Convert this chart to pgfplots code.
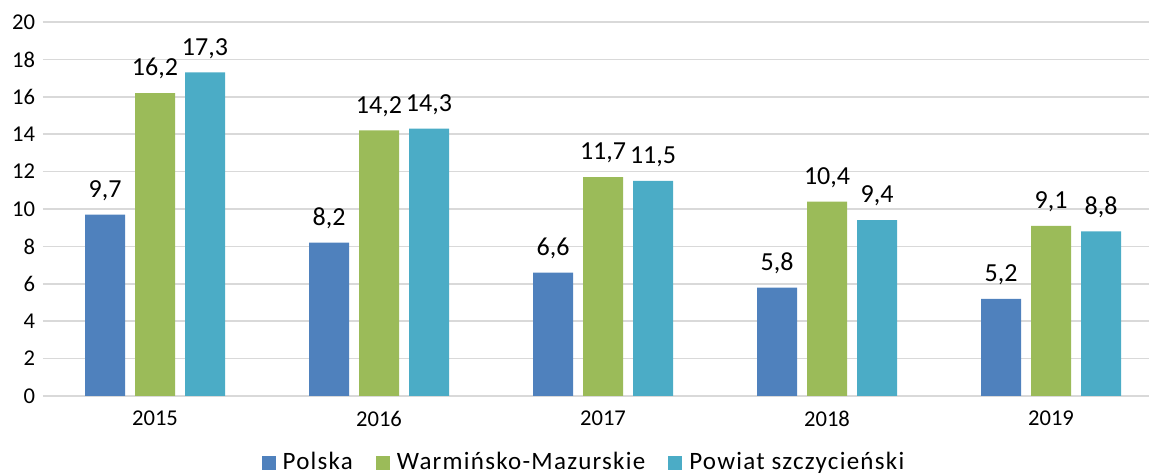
\documentclass[border=0pt]{standalone}
\usepackage{pgfplots}
\pgfplotsset{compat=1.18}
\usepackage{fontspec}
\setmainfont{Carlito}
\definecolor{cPol}{HTML}{4F81BD}
\definecolor{cWM}{HTML}{9BBB59}
\definecolor{cPow}{HTML}{4BACC6}
\definecolor{cGrid}{HTML}{D9D9D9}
\begin{document}
\begin{tikzpicture}
\path[use as bounding box] (0,0) rectangle (574.5bp,237.5bp);
\begin{axis}[
  at={(21.5bp,39.5bp)}, anchor=south west,
  scale only axis, width=553bp, height=187bp,
  ybar=5bp, bar width=20bp,
  xmin=-0.5, xmax=4.4375, ymin=0, ymax=20,
  xtick={0,1,2,3,4}, xticklabels={2015,2016,2017,2018,2019},
  ytick={0,2,...,20},
  ymajorgrids, grid style={cGrid, line width=0.8bp},
  axis line style={draw=none},
  major tick length=0pt,
  /pgf/number format/assume math mode=true,
  tick label style={font=\fontsize{11.3bp}{13bp}\selectfont, text=black},
  yticklabel style={xshift=-0.5bp},
  xticklabel style={yshift=-4bp},
  nodes near coords,
  nodes near coords style={font=\fontsize{13bp}{15bp}\selectfont, text=black, yshift=3.5bp,
    /pgf/number format/use comma, /pgf/number format/fixed, /pgf/number format/fixed zerofill, /pgf/number format/precision=1, /pgf/number format/assume math mode=true},
  legend style={at={(axis description cs:0.49,-0.178)}, anchor=center, draw=none, fill=none,
    font=\fontsize{12.5bp}{14bp}\selectfont\addfontfeatures{LetterSpace=5}, legend columns=-1,
    /tikz/every odd column/.append style={column sep=1.5bp},
    /tikz/every even column/.append style={column sep=9.5bp}},
  legend image code/.code={\fill[#1] (0bp,-3.5bp) rectangle (7bp,3.5bp);},
]
\addplot[draw=none, fill=cPol] coordinates {(0,9.7) (1,8.2) (2,6.6) (3,5.8) (4,5.2)};
\addplot[draw=none, fill=cWM] coordinates {(0,16.2) (1,14.2) (2,11.7) (3,10.4) (4,9.1)};
\addplot[draw=none, fill=cPow] coordinates {(0,17.3) (1,14.3) (2,11.5) (3,9.4) (4,8.8)};
\legend{Polska, Warmińsko-Mazurskie, Powiat szczycieński}
\end{axis}
\end{tikzpicture}
\end{document}
